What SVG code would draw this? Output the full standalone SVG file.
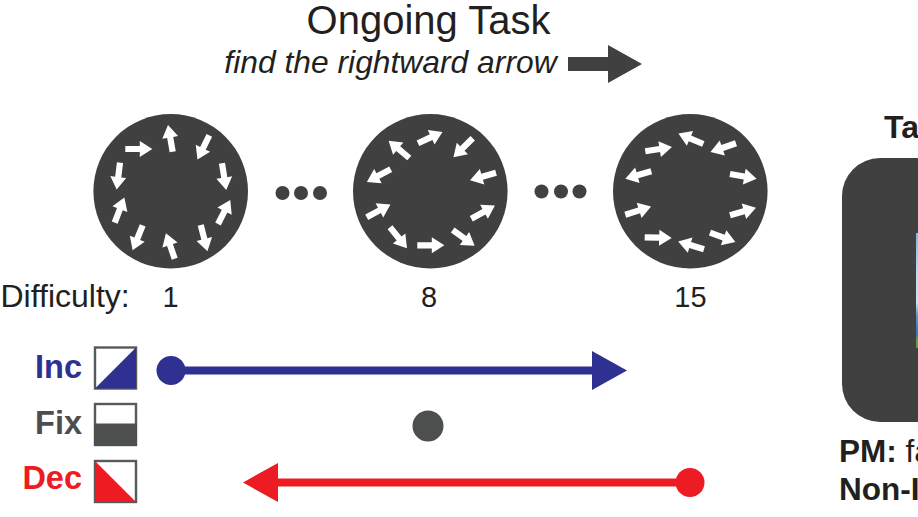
<svg xmlns="http://www.w3.org/2000/svg" width="918" height="517" viewBox="0 0 918 517">
<style>
text{font-family:"Liberation Sans",Arial,sans-serif}
.d{fill:#404040}
.t{fill:#231f20}
.b{font-weight:700}
.n{font-size:29px;text-anchor:middle;fill:#231f20}
.k{font-size:32.500px;font-weight:700;text-anchor:end}
.dot{fill:#414042}
.box{fill:#fff;stroke:#58595b;stroke-width:2.400}
</style>
<defs>
<path id="a" d="M0-3.100H14.500V-8L27 0 14.500 8V3.100H0Z" fill="#fff"/>
<linearGradient id="sky" x1="0" y1="0" x2="0" y2="1"><stop offset="0" stop-color="#7db8e4"/><stop offset="0.35" stop-color="#b9daf2"/><stop offset="0.6" stop-color="#cfe3f2"/><stop offset="0.72" stop-color="#5c93c6"/><stop offset="0.88" stop-color="#3f74a8"/><stop offset="0.93" stop-color="#6c9a4a"/><stop offset="1" stop-color="#66923f"/></linearGradient>
</defs>
<rect width="918" height="517" fill="#fff"/>
<g id="title">
<text class="t" x="428.500" y="34" font-size="40" text-anchor="middle">Ongoing Task</text>
<text class="t" x="390.500" y="73" font-size="31.800" font-style="italic" text-anchor="middle">find the rightward arrow</text>
<path class="d" d="M568 57H608V45L642 64 608 83V71H568Z"/>
</g>
<g id="stim1">
<circle class="d" cx="170.700" cy="191.300" r="77.300"/>
<use href="#a" transform="translate(172.700 151.700) rotate(-100)"/>
<use href="#a" transform="translate(209.300 135.300) rotate(116)"/>
<use href="#a" transform="translate(222 163.300) rotate(81)"/>
<use href="#a" transform="translate(218 224) rotate(-63)"/>
<use href="#a" transform="translate(200.700 225) rotate(75.500)"/>
<use href="#a" transform="translate(174.700 258.700) rotate(-109)"/>
<use href="#a" transform="translate(142.700 225.300) rotate(112)"/>
<use href="#a" transform="translate(114.700 222.700) rotate(-69)"/>
<use href="#a" transform="translate(120 162.700) rotate(97)"/>
<use href="#a" transform="translate(125.300 149)"/>
</g>
<g id="stim8">
<circle class="d" cx="430.300" cy="191.300" r="77.300"/>
<use href="#a" transform="translate(418 143.300) rotate(-25)"/>
<use href="#a" transform="translate(472.700 138.300) rotate(135.500)"/>
<use href="#a" transform="translate(496 172.700) rotate(164)"/>
<use href="#a" transform="translate(471.300 218.700) rotate(-29)"/>
<use href="#a" transform="translate(452.700 230) rotate(35.700)"/>
<use href="#a" transform="translate(417.300 245.300)"/>
<use href="#a" transform="translate(390 227.300) rotate(51)"/>
<use href="#a" transform="translate(366.700 217.300) rotate(-28.500)"/>
<use href="#a" transform="translate(390.700 169.300) rotate(152)"/>
<use href="#a" transform="translate(409.300 158) rotate(-140)"/>
</g>
<g id="stim15">
<circle class="d" cx="690.300" cy="191.300" r="77.300"/>
<use href="#a" transform="translate(703.300 144) rotate(-157)"/>
<use href="#a" transform="translate(736 143.300) rotate(161)"/>
<use href="#a" transform="translate(730 174) rotate(10)"/>
<use href="#a" transform="translate(730 215.300) rotate(-16)"/>
<use href="#a" transform="translate(710 232.700) rotate(20)"/>
<use href="#a" transform="translate(704 249.300) rotate(-163)"/>
<use href="#a" transform="translate(644.700 237.300) rotate(1.500)"/>
<use href="#a" transform="translate(625.300 214.700) rotate(-17.500)"/>
<use href="#a" transform="translate(651.300 171.300) rotate(164)"/>
<use href="#a" transform="translate(645.300 151.300) rotate(-9)"/>
</g>
<g id="ellipsis1"><circle class="dot" cx="282.500" cy="193" r="7"/><circle class="dot" cx="301" cy="193" r="7"/><circle class="dot" cx="320" cy="193" r="7"/></g>
<g id="ellipsis2"><circle class="dot" cx="541.500" cy="191.500" r="7"/><circle class="dot" cx="561" cy="191.500" r="7"/><circle class="dot" cx="579.500" cy="191.500" r="7"/></g>
<g id="difficulty">
<text class="t" x="0.500" y="307" font-size="32">Difficulty:</text>
<text class="n" x="170.500" y="307">1</text>
<text class="n" x="429" y="307">8</text>
<text class="n" x="690.500" y="307">15</text>
</g>
<g id="inc">
<text class="k" x="82" y="378" fill="#2e3192">Inc</text>
<rect class="box" x="95" y="347.500" width="41" height="41"/>
<path d="M95 388.500 136 347.500V388.500Z" fill="#2e3192"/>
</g>
<g id="fix">
<text class="k" x="82" y="433.500" fill="#4d4d4f">Fix</text>
<rect class="box" x="95" y="404" width="41" height="41"/>
<rect x="94" y="423.500" width="43" height="22.500" fill="#4d4e4e"/>
</g>
<g id="dec">
<text class="k" x="82" y="489" fill="#ed1c24">Dec</text>
<rect class="box" x="95" y="461" width="41" height="41"/>
<path d="M95 461 136 502H95Z" fill="#ed1c24"/>
</g>
<g id="connectors">
<path d="M171 370.500H600" stroke="#2e3192" stroke-width="8" fill="none"/>
<path d="M690 482.500H270" stroke="#ed1c24" stroke-width="8" fill="none"/>
<path d="M592 351 627 370.500 592 390Z" fill="#2e3192"/>
<path d="M278 463 243 482.500 278 502Z" fill="#ed1c24"/>
</g>
<circle id="inc-start" cx="171" cy="370.500" r="14.500" fill="#2e3192"/>
<circle id="fix-point" cx="428" cy="426" r="15.500" fill="#4d4e4e"/>
<circle id="dec-start" cx="690" cy="482.500" r="14.500" fill="#ed1c24"/>
<g id="task-panel">
<text class="t b" x="884" y="138" font-size="32">Ta</text>
<rect class="d" x="842" y="158" width="140" height="264" rx="38"/>
<rect x="916" y="233" width="4" height="115" fill="url(#sky)"/>
<text class="t" x="839" y="462" font-size="31.500"><tspan class="b">PM:</tspan> fa</text>
<text class="t b" x="839" y="500" font-size="31.500">Non-I</text>
</g>
</svg>
